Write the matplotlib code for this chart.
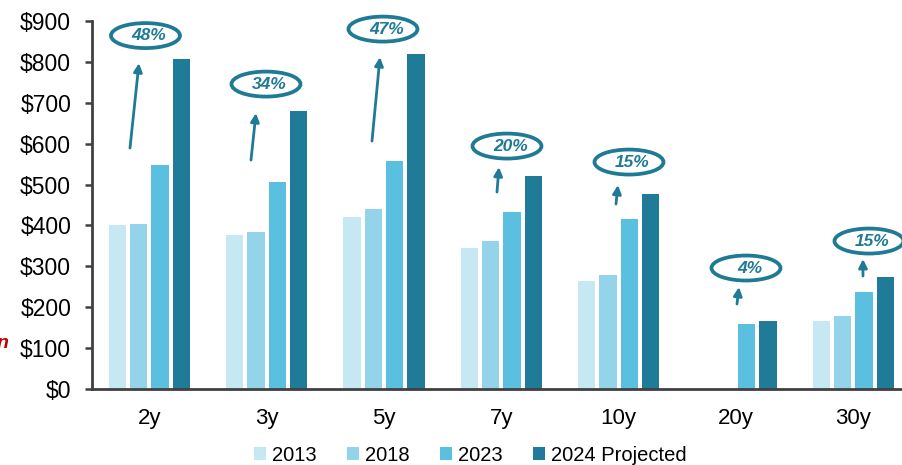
import matplotlib
matplotlib.use("Agg")
import matplotlib.pyplot as plt
from matplotlib.patches import Ellipse
import numpy as np

plt.rcParams['font.family'] = ['Liberation Sans', 'DejaVu Sans']

categories = ['2y', '3y', '5y', '7y', '10y', '20y', '30y']
v2013 = [402, 376, 420, 346, 263, 0, 166]
v2018 = [403, 383, 441, 361, 278, 0, 178]
v2023 = [549, 507, 558, 434, 415, 158, 237]
v2024 = [807, 680, 820, 520, 478, 166, 273]
series_names = ['2013', '2018', '2023', '2024 Projected']
growth = ['48%', '34%', '47%', '20%', '15%', '4%', '15%']
yticks = [0, 100, 200, 300, 400, 500, 600, 700, 800, 900]

colors = ['#C6E8F3', '#93D4EA', '#5BBFE0', '#1F7B97']
accent = '#1F7A96'

W, H = 903, 465
fig = plt.figure(figsize=(W / 100, H / 100), dpi=100)
ax_left = 92 / W
ax_bottom = 1 - 389 / H
ax_h = (389 - 21) / H
ax_w = 7 * 117.3 / W
ax = fig.add_axes([ax_left, ax_bottom, ax_w, ax_h])

x = np.arange(len(categories))
bw = 0.148
pitch = 0.182
allv = [v2013, v2018, v2023, v2024]
for i, (vals, c, n) in enumerate(zip(allv, colors, series_names)):
    ax.bar(x + (i - 1.5) * pitch, vals, width=bw, color=c, label=n, zorder=2)

ax.set_xlim(-0.49, 6.51)
ax.set_ylim(0, 900)
ax.set_yticks(yticks)
ax.set_yticklabels([f'${v}' for v in yticks], fontsize=16.5)
ax.set_xticks(x)
ax.set_xticklabels(categories, fontsize=16)
ax.tick_params(axis='x', length=0, pad=14)
ax.tick_params(axis='y', length=5, width=1.8, color='#404040', direction='out', pad=10)
for s in ['top', 'right']:
    ax.spines[s].set_visible(False)
for s in ['left', 'bottom']:
    ax.spines[s].set_color('#404040')
    ax.spines[s].set_linewidth(2)

# growth annotations (pixel positions converted to data)
def px2d(px, py):
    return (px - 150.5) / 117.3, (389 - py) / 0.409

ell_px = [(146.5, 35.5), (267, 84), (384, 29), (508, 146), (630, 162), (747, 268), (870, 241)]
arrows_px = [((131, 148), (140, 63)), ((252, 160), (257, 113)), ((373, 141), (381, 57)),
             ((498, 192), (500, 167)), ((617, 204), (619, 185)), ((738, 304), (740, 287)),
             ((864, 276), (864, 259))]
for g, (ex, ey), (a0, a1) in zip(growth, ell_px, arrows_px):
    cx, cy = px2d(ex, ey)
    e = Ellipse((cx, cy), width=69 / 117.3, height=25 / 0.409, fill=False,
                edgecolor=accent, linewidth=2.7, clip_on=False, zorder=4)
    ax.add_patch(e)
    ax.text(cx + 0.03, cy, g, ha='center', va='center', fontsize=12.5, fontweight='bold',
            fontstyle='italic', color=accent, zorder=5, clip_on=False)
    p0 = px2d(*a0)
    p1 = px2d(*a1)
    ax.annotate('', xy=p1, xytext=p0,
                arrowprops=dict(arrowstyle='-|>,head_length=0.5,head_width=0.25',
                                color=accent, lw=2, shrinkA=0, shrinkB=0),
                annotation_clip=False, zorder=4)

leg = fig.legend(loc='center', bbox_to_anchor=(470 / W, 1 - 455 / H), ncol=4, frameon=False,
                 fontsize=14.5, handlelength=0.6, handleheight=0.6, handletextpad=0.3,
                 columnspacing=1.5)

fig.text(9 / W, 1 - 343 / H, 'n', ha='right', va='center', color='#C00000',
         fontsize=14, fontstyle='italic', fontweight='bold')

fig.savefig('out.png', dpi=100)
